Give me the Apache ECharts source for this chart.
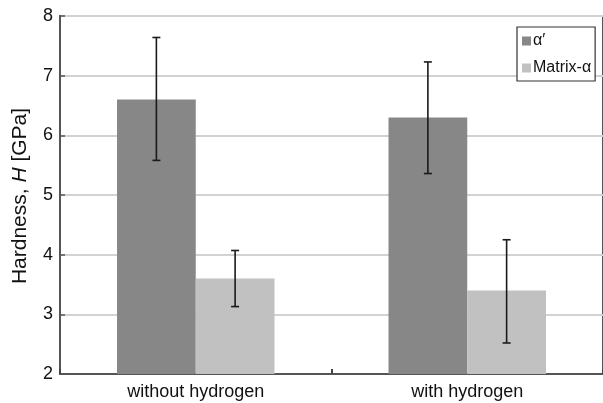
<!DOCTYPE html>
<html>
<head>
<meta charset="utf-8">
<script src="https://cdn.jsdelivr.net/npm/echarts@6/dist/echarts.min.js"></script>
<style>html,body{margin:0;padding:0;background:#fff}#c{width:603px;height:403px}</style>
</head>
<body>
<div id="c"></div>
<script>
var categories = ['without hydrogen', 'with hydrogen'];
var seriesNames = ['α′', 'Matrix-α'];
var alphaPrime = [6.6, 6.3];
var alphaPrimeLow = [5.58, 5.36];
var alphaPrimeHigh = [7.64, 7.23];
var matrixAlpha = [3.6, 3.4];
var matrixAlphaLow = [3.13, 2.52];
var matrixAlphaHigh = [4.07, 4.25];
var yTicks = [2, 3, 4, 5, 6, 7, 8];

var FONT = 'Liberation Sans, Arial, sans-serif';
var BAR_FRAC = 0.29;
function errSeries(low, high, side) {
  var data = categories.map(function (c, i) { return [i, low[i], high[i]]; });
  return {
    type: 'custom',
    silent: true,
    z: 10,
    data: data,
    renderItem: function (params, api) {
      var i = api.value(0);
      var pLow = api.coord([i, api.value(1)]);
      var pHigh = api.coord([i, api.value(2)]);
      var band = api.size([1, 0])[0];
      var x = pLow[0] + side * band * BAR_FRAC / 2;
      var cap = 4;
      var st = { stroke: '#1a1a1a', lineWidth: 1.6 };
      return {
        type: 'group',
        children: [
          { type: 'line', shape: { x1: x, y1: pLow[1], x2: x, y2: pHigh[1] }, style: st },
          { type: 'line', shape: { x1: x - cap, y1: pLow[1], x2: x + cap, y2: pLow[1] }, style: st },
          { type: 'line', shape: { x1: x - cap, y1: pHigh[1], x2: x + cap, y2: pHigh[1] }, style: st }
        ]
      };
    }
  };
}

var chart = echarts.init(document.getElementById('c'), null, { renderer: 'canvas' });
chart.setOption({
  animation: false,
  backgroundColor: '#fff',
  textStyle: { fontFamily: FONT },
  grid: { left: 60, top: 16, width: 546, height: 358, show: true, borderColor: '#555', borderWidth: 2, backgroundColor: 'transparent' },
  legend: {
    data: seriesNames,
    orient: 'vertical',
    left: 517, top: 27,
    backgroundColor: '#fff',
    borderColor: '#333', borderWidth: 1.2,
    padding: [6, 4, 5, 5],
    itemGap: 11,
    itemWidth: 9, itemHeight: 9,
    icon: 'rect',
    textStyle: { fontSize: 16, color: '#111', fontFamily: FONT, padding: [0, 0, 0, -3] }
  },
  graphic: [{
    type: 'text',
    x: 20, y: 196,
    rotation: Math.PI / 2,
    style: {
      text: '{a|Hardness, }{b|H}{a| [GPa]}',
      align: 'center',
      verticalAlign: 'middle',
      rich: {
        a: { fontSize: 21, fill: '#111', fontFamily: FONT },
        b: { fontSize: 21, fill: '#111', fontStyle: 'italic', fontFamily: FONT }
      }
    }
  }],
  xAxis: {
    type: 'category',
    data: categories,
    axisLine: { lineStyle: { color: '#555', width: 2 } },
    axisTick: { show: true, inside: true, length: 5, lineStyle: { color: '#444', width: 2 } },
    axisLabel: { fontSize: 18, color: '#111', margin: 9 },
    splitLine: { show: false }
  },
  yAxis: {
    type: 'value',
    min: yTicks[0], max: yTicks[yTicks.length - 1], interval: 1,
    axisLine: { show: true, lineStyle: { color: '#555', width: 2 } },
    axisTick: { show: true, inside: true, length: 5, lineStyle: { color: '#555', width: 1.5 } },
    axisLabel: { fontSize: 18, color: '#111', margin: 7 },
    splitLine: { show: true, lineStyle: { color: '#d2d2d2', width: 2 } }
  },
  series: [
    { name: seriesNames[0], type: 'bar', data: alphaPrime, barWidth: (BAR_FRAC * 100) + '%', barGap: '0%', itemStyle: { color: '#878787' } },
    { name: seriesNames[1], type: 'bar', data: matrixAlpha, barWidth: (BAR_FRAC * 100) + '%', barGap: '0%', itemStyle: { color: '#c1c1c1' } },
    errSeries(alphaPrimeLow, alphaPrimeHigh, -1),
    errSeries(matrixAlphaLow, matrixAlphaHigh, 1)
  ]
});
</script>
</body>
</html>
